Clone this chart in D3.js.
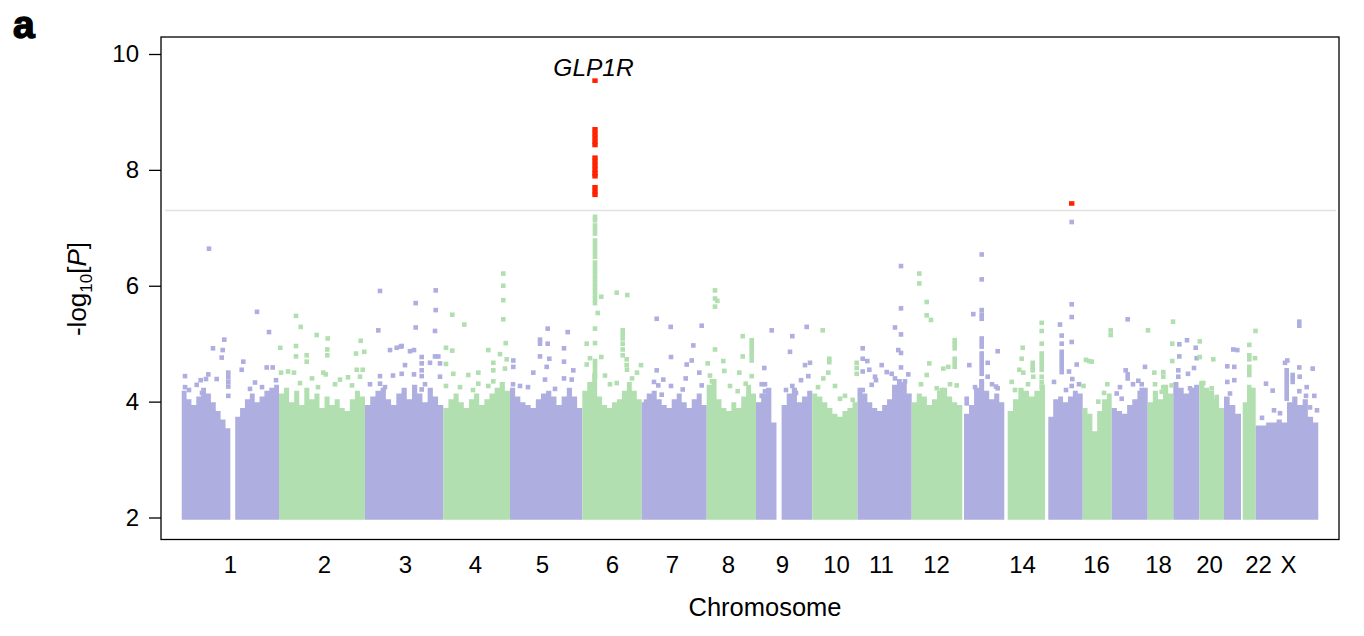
<!DOCTYPE html>
<html><head><meta charset="utf-8">
<script src="https://cdn.jsdelivr.net/npm/d3@7"></script>
<style>body{margin:0;background:#fff}svg{display:block}</style>
</head><body><svg id="c" width="1364" height="636"></svg>
<script>
// ---------------- data ----------------
const chromosomes = ["1","2","3","4","5","6","7","8","9","10","11","12","13","14","15","16","17","18","19","20","21","22","X"];
// relative plotted span of each chromosome
const chrLength = [97.3,86,78.3,66.7,72.3,59.4,65,49.3,56.3,45.2,54.2,50.6,42,40.7,37.7,29,36,25.6,26,24.7,17,14.7,62.6];
// offset of first typed SNP (acrocentric short arms carry no SNPs)
const chrFirstSnp = [0,0,0,0,0,0,0,0,0,0,0,0,1.7,3.4,3.3,0,0,0,0,0,0,1.7,0];
// upper level of the dense SNP cloud along each chromosome (null = no SNPs)
const bodyLevels = [
 [4.15,4.0,3.9,4.05,4.2,4.1,3.95,3.8,3.65,3.5,null,3.7,3.85,4.0,4.1,3.95,4.05,4.15,4.2,4.25],
 [4.1,4.2,3.95,4.15,3.9,4.2,4.0,4.1,3.85,4.05,3.9,4.0,3.85,3.8,4.0,4.15,4.05],
 [3.9,4.05,4.15,4.2,4.0,3.9,4.1,4.2,4.0,4.25,4.1,3.95,4.2,4.05,3.9],
 [3.85,4.0,4.1,3.95,3.85,4.0,4.1,3.9,4.0,4.1,4.2,4.3,4.15],
 [4.2,4.05,3.95,3.9,3.85,4.0,4.1,4.15,4.05,3.9,4.05,4.2,4.05,3.85],
 [4.15,4.3,4.45,4.05,3.9,3.85,3.95,4.0,4.15,4.3,4.15,4.0],
 [3.95,4.1,4.15,4.0,3.9,3.85,4.0,4.1,3.95,3.85,4.0,4.1,3.9],
 [4.25,4.35,4.0,3.85,3.8,3.95,3.85,4.05,4.25,4.1],
 [3.95,4.1,4.2,3.6,null,3.9,4.1,4.2,3.95,4.05,4.15],
 [4.1,4.05,3.95,3.85,3.75,3.7,3.8,3.85,3.95],
 [4.2,4.1,3.95,3.85,3.8,3.9,4.0,4.25,4.35,4.3,4.1],
 [3.95,4.1,4.05,3.9,4.0,4.15,4.2,4.05,3.95,3.9],
 [3.75,3.9,4.2,4.35,4.15,4.0,4.1,3.95],
 [3.8,4.0,4.2,4.15,4.05,4.15,4.25],
 [3.7,4.0,4.05,3.95,4.05,4.15,4.1],
 [3.85,3.75,3.45,3.8,4.0,4.1],
 [3.85,3.8,3.75,3.9,4.0,4.15,4.2],
 [3.95,4.15,4.0,4.25,4.1],
 [4.3,4.2,4.1,4.2,4.25],
 [4.3,4.2,4.15,4.0,3.85],
 [4.05,3.9,3.75],
 [3.95,4.25,4.2],
 [3.55,3.55,3.6,3.6,3.65,3.6,3.95,4.05,3.9,4.0,3.7,3.6]
];
// individual SNPs above the dense cloud: [position in chromosome, -log10 P]
const snpHits = [
 [[27.3,6.64],[75.3,5.55],[87.3,5.20],[42.6,5.07],[31.3,4.92],[41,4.89],[40,4.76],[61.6,4.69],[60,4.55],[85,4.59],[91,4.59],[46.6,4.50],[46.6,4.42],[46.6,4.34],[46.6,4.26],[35,4.39],[3.3,4.44],[3.3,4.25],[24.3,4.39],[26.6,4.47],[15,4.29],[19,4.37],[46.6,4.10],[73.3,4.33],[94.3,4.37],[7.3,4.2],[20.3,4.15],[68.3,4.22],[80.3,4.25]],
 [[17,5.48],[21.7,5.29],[37.7,5.15],[48.7,5.09],[81.7,5.05],[1.2,4.93],[17,4.96],[17,4.78],[27.7,4.80],[27.7,4.69],[48.3,4.90],[48.3,4.80],[77,4.83],[85.3,4.86],[2,4.5],[9,4.52],[15,4.5],[44.3,4.5],[46.7,4.47],[77.7,4.55],[83.7,4.55],[81,4.43],[33,4.4],[61,4.38],[69,4.42],[56,4.3],[21,4.32],[39,4.25],[73,4.28]],
 [[15,5.91],[13.3,5.23],[25,4.89],[31.7,4.93],[15,4.44],[28,4.45],[15,4.31],[35.7,4.95],[70.7,5.92],[50.7,5.70],[70.7,5.58],[50.7,5.28],[70,5.22],[36.7,4.96],[45,4.87],[49,4.89],[56.7,4.77],[56.7,4.66],[56.7,4.54],[56.7,4.44],[70,4.78],[73.3,4.78],[65,4.67],[75,4.66],[40,4.63],[36.7,4.48],[49,4.47],[75,4.43],[56.7,4.21],[5,4.3],[20,4.25],[60,4.3]],
 [[60,6.21],[60,6.00],[60,5.75],[60,5.42],[9,5.50],[21,5.33],[62.4,5.01],[2.7,4.93],[9,4.88],[45,4.89],[56.7,4.82],[50,4.67],[63.4,4.73],[2.7,4.65],[10,4.48],[25,4.46],[35,4.50],[50,4.54],[61.7,4.57],[2.7,4.27],[35,4.31],[45,4.27],[50,4.35],[16.7,4.25],[29.7,4.2]],
 [[37.7,5.26],[57.7,5.20],[30,5.07],[30,5.0],[37.7,5.0],[54,4.92],[3.3,4.71],[3.3,4.60],[30,4.78],[39.3,4.74],[54,4.69],[23.3,4.5],[36.7,4.6],[63.3,4.54],[35,4.38],[54,4.40],[61.7,4.38],[3,4.3],[10,4.27],[18,4.25],[45,4.22]],
 [[19,5.81],[34.4,5.88],[45,5.84],[15.4,5.53],[19,4.77],[4.4,5.0],[4.4,4.64],[40.4,5.23],[40.4,5.16],[40.4,5.09],[40.4,5.0],[40.4,4.9],[40.4,4.8],[34.4,4.32],[44.4,4.73],[44.4,4.63],[44.7,4.55],[58.7,4.63],[7.7,4.75],[22.7,4.45],[27.7,4.3],[49.7,4.4],[54.7,4.5],
  [12.7,7.19],[12.7,7.13],[12.7,7.04],[12.7,6.97],[12.7,6.90],[12.7,6.78],[12.7,6.71],[12.7,6.64],[12.7,6.57],[12.7,6.50],[12.7,6.40],[12.7,6.33],[12.7,6.26],[12.7,6.19],[12.7,6.12],[12.7,6.05],[12.7,5.98],[12.7,5.91],[12.7,5.84],[12.7,5.77],[12.7,5.70],[12.7,5.26],[12.7,5.01],[12.7,4.70],[12.7,4.63],[12.7,4.56],[12.7,4.49],[12.7,4.42]],
 [[15,5.43],[29,5.29],[60,5.31],[51.6,4.97],[29.3,4.77],[50,4.71],[15,4.54],[45,4.64],[57.6,4.50],[12.3,4.34],[21.6,4.38],[16.6,4.28],[29.3,4.27],[44,4.40],[41,4.21],[60,4.28],[4.3,4.0],[10,4.05],[20,4.12]],
 [[8.3,5.92],[8.3,5.78],[10.6,5.74],[8.3,5.64],[36,5.13],[45,5.06],[45,4.99],[45,4.92],[45,4.85],[45,4.78],[45,4.71],[8.3,4.90],[16.6,4.70],[36,4.78],[1,4.66],[17.6,4.53],[32.6,4.50],[45,4.44],[23.3,4.27],[31,4.18],[39,4.31],[3.3,4.45],[5.3,4.35]],
 [[15.7,5.23],[50.7,5.29],[36.3,5.13],[34,4.86],[8.3,4.58],[54,4.67],[49,4.63],[52.3,4.44],[45,4.37],[36.3,4.27],[5.7,4.3],[9,4.3],[9,4.18],[5.7,4.1],[4,3.94],[30,4.2],[40,4.15]],
 [[10.4,5.23],[17,4.74],[17,4.68],[16,4.50],[11,4.40],[22.7,4.27],[44.4,4.67],[44.4,4.58],[44.4,4.48],[32.7,4.1],[40.4,4.03],[5.7,4.25],[27.7,4.05]],
 [[43.5,6.34],[43.5,5.61],[37.5,5.28],[43.5,5.16],[5.2,4.92],[5.2,4.74],[9.8,4.70],[40.8,4.89],[43.5,4.84],[24.2,4.63],[43.5,4.59],[17.5,4.43],[11.8,4.55],[5.2,4.52],[29.2,4.51],[34.2,4.48],[5.2,4.20],[14.2,4.29],[18.5,4.37],[50.8,4.47],[37.5,4.4],[47.5,4.35]],
 [[7.6,6.21],[7.6,6.04],[15,5.72],[15,5.49],[19.3,5.41],[43,5.06],[43,4.99],[43,4.92],[43,4.74],[43,4.67],[43,4.60],[17.6,4.66],[9.3,4.30],[31.6,4.57],[36.6,4.60],[15,4.46],[38.3,4.3],[45,4.28],[25,4.23],[30,4.2]],
 [[19.4,6.54],[19.4,6.11],[11,5.51],[19.4,5.58],[19.4,5.50],[19.4,5.43],[19.4,5.09],[19.4,5.02],[19.4,4.95],[19.4,4.83],[19.4,4.76],[19.4,4.69],[19.4,4.62],[19.4,4.55],[19.4,4.48],[35.4,4.87],[7,4.63],[25.4,4.67],[25.4,4.43],[35.4,4.23],[33.7,4.26],[4.4,4.05],[4.4,3.97],[12.7,4.25],[29.7,4.3]],
 [[37.4,5.36],[37.4,5.22],[37.4,5.0],[37.4,4.83],[37.4,4.76],[37.4,4.69],[37.4,4.62],[37.4,4.55],[18.4,4.93],[17.4,4.74],[28.4,4.67],[28.4,4.60],[28.4,4.54],[7.4,4.34],[15,4.55],[19,4.5],[29,4.43],[37.4,4.43],[37.4,4.34],[37.4,4.26],[10.7,4.2],[23.7,4.3]],
 [[26.7,7.10],[26.7,5.68],[26.7,5.46],[26.7,5.03],[15,5.33],[16.7,5.14],[16.7,5.0],[16.7,4.86],[16.7,4.79],[16.7,4.72],[16.7,4.65],[16.7,4.58],[16.7,4.51],[24,4.52],[31.7,4.64],[27.3,4.39],[26.7,4.27],[9,4.34],[21,4.2],[34,4.3]],
 [[3.3,4.72],[6.6,4.70],[0.8,4.27],[28,5.23],[28,5.15],[9,4.69],[24.6,4.30],[15.6,4.0],[21.3,4.15]],
 [[16,5.42],[14,4.54],[16,4.47],[16,4.40],[26.6,4.36],[30,4.30],[33.3,4.60],[5,4.14],[10,4.05],[30,4.20],[8.3,4.25],[21.3,4.3]],
 [[0.3,5.23],[6.6,4.50],[15.6,4.51],[15.6,4.43],[25.3,5.38],[24.6,5.0],[24.6,4.70],[24,4.28],[14,4.17],[15.6,4.25],[7.3,4.3]],
 [[13.7,5.06],[6,4.99],[22.4,4.93],[6,4.78],[23.4,4.75],[20.7,4.58],[5,4.54],[5,4.43],[14.7,4.48],[16.7,4.23]],
 [[0.5,5.04],[14,4.73],[0.5,4.77],[2.4,4.32],[4,4.32],[12.4,4.23],[17.4,4.08],[17.4,4.01]],
 [[9.3,4.90],[13.3,4.89],[3.3,4.61],[10.3,4.60],[3.3,4.34],[10.3,4.37],[6,4.14]],
 [[14.5,5.22],[8.3,4.98],[8.3,4.80],[8.3,4.73],[14,4.75],[8.3,4.60],[8.3,4.53],[8.3,4.46],[9,4.2]],
 [[43.6,5.38],[43.6,5.31],[31.6,4.71],[29.3,4.67],[43.6,4.59],[57,4.57],[44,4.43],[51,4.25],[43.6,4.18],[50.3,4.10],[58.6,4.10],[37,4.46],[37,4.40],[37,4.34],[31,4.54],[31,4.47],[31,4.40],[31,4.33],[31,4.26],[31,4.19],[31,4.12],[31,4.05],[10.3,4.31],[17,4.19],[18.3,3.85],[24.3,3.8],[6.3,3.72],[54.3,3.9],[61.3,3.85]]
];
// genome-wide significant SNPs
const sigChr = ["6","15"];
const sigPos = [12.7, 26.7];
const sigValues = [[9.54,8.70,8.63,8.56,8.49,8.43,8.21,8.14,8.07,8.00,7.94,7.89,7.70,7.63,7.57],[7.42]];
const geneLabel = {chr:"6", pos:12.7, value:9.54, text:"GLP1R"};
const gwsThreshold = 7.3;
const yTicks = [2,4,6,8,10];
const tickLabels = ["1","2","3","4","5","6","7","8","9","10","11","12","14","16","18","20","22","X"];
const tickPositions = [48.3,142.3,223.3,293.3,360.3,430.3,490.3,546.3,600.3,654.3,699.3,754.3,840.3,914.3,976.3,1027.3,1076.3,1106.3];

// ---------------- drawing ----------------
const FONT = '"Liberation Sans", Arial, Helvetica, sans-serif';
const purple = "#aeaee0", green = "#b1dfb0", red = "#ff2200";
const box = {left:161, top:37, right:1339, bottom:539.5};
const svg = d3.select("#c");
const total = d3.sum(chrLength);
const chrStart = []; let acc = 0; chrLength.forEach(l => { chrStart.push(acc); acc += l; });
const x = d3.scaleLinear().domain([0, total]).range([181.7, 1318.3]);
const y = d3.scaleLinear().domain([2, 10]).range([517.5, 54]);
const colour = i => i % 2 === 0 ? purple : green;
const r = 2.3;

svg.append("line").attr("x1", box.left + 4).attr("x2", box.right - 3)
  .attr("y1", y(gwsThreshold)).attr("y2", y(gwsThreshold))
  .attr("stroke", "#e2e2e2").attr("stroke-width", 1.6);

const area = d3.area().defined(d => d.v != null)
  .x(d => x(d.p)).y0(y(2) + r).y1(d => y(d.v) - r);
chromosomes.forEach((c, i) => {
  const lv = bodyLevels[i];
  const s = chrStart[i] + chrFirstSnp[i];
  const w = (chrLength[i] - chrFirstSnp[i]) / lv.length;
  const pts = [];
  lv.forEach((v, k) => { pts.push({p: s + k * w, v}); pts.push({p: s + (k + 1) * w, v}); });
  svg.append("path").datum(pts).attr("d", area).attr("fill", colour(i));
});

snpHits.forEach((arr, i) => {
  svg.append("g").selectAll("rect").data(arr).join("rect")
    .attr("x", d => x(chrStart[i] + d[0]) - r).attr("y", d => y(d[1]) - r)
    .attr("width", 2 * r).attr("height", 2 * r).attr("fill", colour(i));
});

sigChr.forEach((c, j) => {
  const i = chromosomes.indexOf(c);
  svg.append("g").selectAll("rect").data(sigValues[j]).join("rect")
    .attr("x", x(chrStart[i] + sigPos[j]) - 2.7).attr("y", d => y(d) - r)
    .attr("width", 5.4).attr("height", 2 * r).attr("fill", red);
});

{
  const i = chromosomes.indexOf(geneLabel.chr);
  svg.append("text").attr("x", x(chrStart[i] + geneLabel.pos) - 1.5).attr("y", y(geneLabel.value) - 4.5)
    .attr("text-anchor", "middle").attr("font-style", "italic").attr("font-size", 24.5)
    .attr("font-family", FONT).attr("fill", "#000").text(geneLabel.text);
}

svg.append("rect").attr("x", box.left).attr("y", box.top)
  .attr("width", box.right - box.left).attr("height", box.bottom - box.top)
  .attr("fill", "none").attr("stroke", "#000").attr("stroke-width", 1.3);

const gy = svg.append("g").attr("transform", `translate(${box.left},0)`)
  .call(d3.axisLeft(y).tickValues(yTicks).tickSize(12).tickPadding(10));
gy.attr("font-size", 24).attr("font-family", FONT);
gy.select(".domain").remove();
gy.selectAll("line").attr("stroke", "#000").attr("stroke-width", 1.3);
gy.selectAll("text").attr("fill", "#000");

const gx = svg.append("g").attr("transform", `translate(0,${box.bottom})`)
  .call(d3.axisBottom(x).tickValues(tickPositions).tickFormat((d, k) => tickLabels[k]).tickSize(0).tickPadding(16.5));
gx.attr("font-size", 24).attr("font-family", FONT);
gx.select(".domain").remove();
gx.selectAll("text").attr("fill", "#000");

svg.append("text").attr("x", 765).attr("y", 616).attr("text-anchor", "middle")
  .attr("font-size", 25.5).attr("font-family", FONT).attr("fill", "#000").text("Chromosome");

const yt = svg.append("text").attr("transform", "translate(86,289) rotate(-90)")
  .attr("text-anchor", "middle").attr("font-size", 26).attr("font-family", FONT).attr("fill", "#000");
yt.append("tspan").text("-log");
yt.append("tspan").attr("font-size", 17).attr("dy", 6).text("10");
yt.append("tspan").attr("dy", -6).text("[");
yt.append("tspan").attr("font-style", "italic").text("P");
yt.append("tspan").text("]");

svg.append("text").attr("x", 13).attr("y", 38).attr("font-size", 39).attr("font-weight", 900)
  .attr("font-family", FONT).attr("fill", "#000").attr("stroke", "#000").attr("stroke-width", 1.4)
  .text("a");
</script></body></html>
